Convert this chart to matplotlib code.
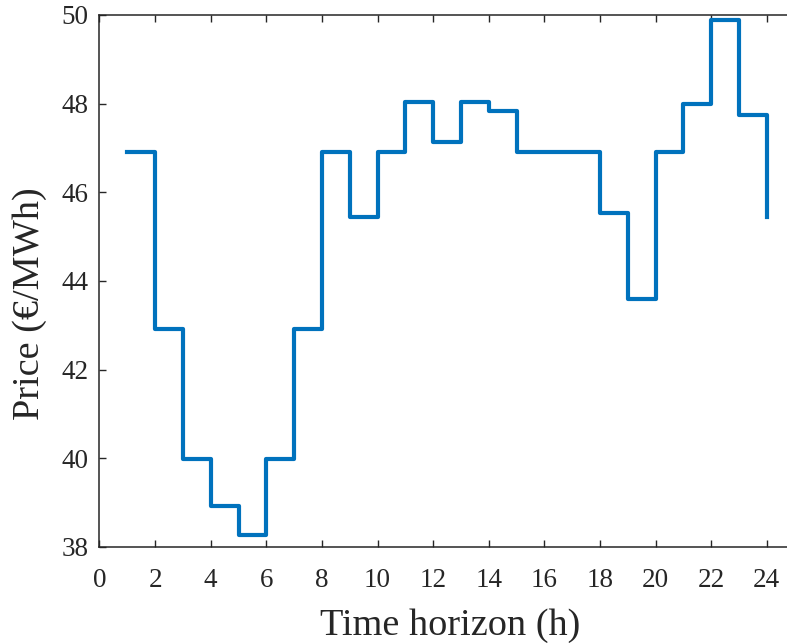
import matplotlib
matplotlib.use("Agg")
import matplotlib.pyplot as plt

hours = list(range(1, 25))
price = [46.91, 42.91, 39.98, 38.92, 38.28, 39.98, 42.91, 46.91, 45.44, 46.91,
         48.04, 47.13, 48.04, 47.83, 46.91, 46.91, 46.91, 45.53, 43.59, 46.91,
         48.00, 49.89, 47.74, 45.45]
xticks = list(range(0, 25, 2))
yticks = list(range(38, 51, 2))

plt.rcParams['font.family'] = ['Liberation Serif', 'DejaVu Serif']

fig = plt.figure(figsize=(7.87, 6.43), dpi=100)
W, H = 787, 643
left, right, top, bottom = 99.5, 794.5, 15, 547
ax = fig.add_axes([left / W, (H - bottom) / H, (right - left) / W, (bottom - top) / H])

ax.step(hours, price, where='post', color='#0072BD', lw=3.0)

ax.set_xlim(0, 25)
ax.set_ylim(38, 50)
ax.set_xticks(xticks)
ax.set_yticks(yticks)
ax.tick_params(direction='in', length=5, width=1.0, top=True, right=True,
               labelsize=19.5, colors='#262626')
ax.tick_params(axis='x', pad=15)
ax.tick_params(axis='y', pad=8)
for s in ax.spines.values():
    s.set_color('#262626')
    s.set_linewidth(1.1)

fig.text(450 / W, 1 - 635 / H, 'Time horizon (h)', fontsize=27.5, color='#262626',
         ha='center', va='baseline')
fig.text(29.5 / W, 1 - 304 / H, 'Price (€/MWh)', fontsize=27.5, color='#262626',
         ha='center', va='center', rotation=90)

fig.savefig('out.png', dpi=100)
